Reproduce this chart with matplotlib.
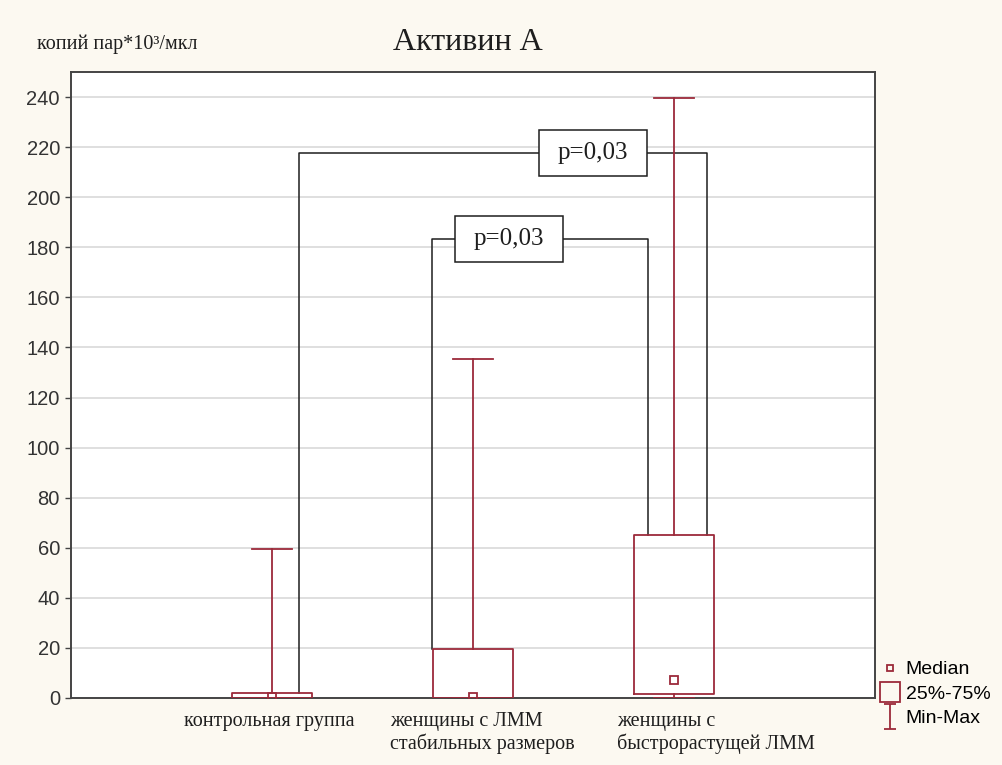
import matplotlib
matplotlib.use("Agg")
import matplotlib.pyplot as plt
from matplotlib.lines import Line2D
from matplotlib.patches import Rectangle
from matplotlib.path import Path

# values (копий пар*10^3/мкл)
categories = [
    "контрольная группа",
    "женщины с ЛММ\nстабильных размеров",
    "женщины с\nбыстрорастущей ЛММ",
]
medians = [0.5, 0.5, 7.3]
q1 = [0.0, 0.0, 1.7]
q3 = [1.8, 19.5, 65.0]
mins = [0.0, 0.0, 0.0]
maxs = [59.3, 135.2, 239.5]
yticks = list(range(0, 241, 20))

# significance brackets: (left group, right group, left x, right x, height, label x, text)
brackets = [
    (0, 2, 1.134, 3.166, 217.7, 2.597, "p=0,03"),
    (1, 2, 1.794, 2.869, 183.4, 2.179, "p=0,03"),
]

RED = "#9c2a3a"
INK = "#1e1e1e"
BG = "#fcf9f1"
SERIF = ["Liberation Serif", "DejaVu Serif"]
SANS = ["Liberation Sans", "DejaVu Sans"]

fig = plt.figure(figsize=(10.03, 7.65), dpi=100, facecolor=BG)
ax = fig.add_axes([0.0708, 0.0876, 0.8016, 0.8183])
ax.set_facecolor("white")

positions = [1, 2, 3]
stats = [
    dict(med=m, q1=a, q3=b, whislo=lo, whishi=hi, fliers=[])
    for m, a, b, lo, hi in zip(medians, q1, q3, mins, maxs)
]
ax.bxp(
    stats,
    positions=positions,
    widths=0.4,
    capwidths=0.2,
    showfliers=False,
    boxprops=dict(color=RED, linewidth=1.3),
    whiskerprops=dict(color=RED, linewidth=1.3),
    capprops=dict(color=RED, linewidth=1.3),
    medianprops=dict(linestyle="none"),
    zorder=3,
)
ax.plot(positions, medians, linestyle="none", marker="s", markersize=6,
        markerfacecolor="none", markeredgecolor=RED, markeredgewidth=1.3,
        zorder=4)

for left, right, x0, x1, h, lx, txt in brackets:
    ax.plot([x0, x0, x1, x1], [q3[left], h, h, q3[right]],
            color=INK, linewidth=1.1, zorder=2)
    ax.add_patch(Rectangle((lx - 0.27, h - 9.2), 0.54, 18.4,
                           facecolor="white", edgecolor=INK,
                           linewidth=1.1, zorder=5))
    ax.text(lx, h, txt, ha="center", va="center", fontsize=18,
            family=SERIF, color=INK, zorder=6)

ax.set_xlim(0, 4)
ax.set_ylim(0, 250)
ax.set_yticks(yticks)
ax.set_yticklabels([str(t) for t in yticks], family=SANS, fontsize=14.5,
                   color="#333333")
ax.set_xticks(positions)
ax.set_xticklabels([])
ax.tick_params(axis="x", length=0)
ax.tick_params(axis="y", length=4, width=1, color="#444444", pad=4)
ax.grid(axis="y", color="#d9d9d9", linewidth=1.2, zorder=0)
ax.set_axisbelow(True)
for s in ax.spines.values():
    s.set_color("#444444")
    s.set_linewidth(1.4)

# category captions sit like free text boxes under the plot
label_x = [0.985, 1.587, 2.716]
label_ha = ["center", "left", "left"]
for x, ha, txt in zip(label_x, label_ha, categories):
    ax.text(x, -5.4, txt, ha=ha, va="top", fontsize=14.5, family=SERIF,
            color=INK, linespacing=1.2, multialignment="left",
            clip_on=False)

fig.text(0.466, 0.945, "Активин А", ha="center", va="center",
         fontsize=23, family=SERIF, color=INK)
fig.text(0.037, 0.942, "копий пар*10³/мкл", ha="left", va="center",
         fontsize=14.5, family=SERIF, color=INK)

minmax = Path([(-0.5, -1), (0.5, -1), (0, -1), (0, 1), (-0.5, 1), (0.5, 1)],
              [Path.MOVETO, Path.LINETO, Path.MOVETO, Path.LINETO,
               Path.MOVETO, Path.LINETO])
handles = [
    Line2D([], [], linestyle="none", marker="s", markersize=5,
           markerfacecolor="none", markeredgecolor=RED, markeredgewidth=1.3),
    Line2D([], [], linestyle="none", marker="s", markersize=15,
           markerfacecolor="none", markeredgecolor=RED, markeredgewidth=1.3),
    Line2D([], [], linestyle="none", marker=minmax, markersize=18,
           markeredgecolor=RED, markeredgewidth=1.3),
]
fig.legend(handles, ["Median", "25%-75%", "Min-Max"],
           loc="upper left", bbox_to_anchor=(0.868, 0.149),
           frameon=False, handlelength=1.0, handletextpad=0.3,
           labelspacing=0.35, borderpad=0, prop=dict(family=SANS, size=14))

fig.savefig("out.png", dpi=100, facecolor=BG)
